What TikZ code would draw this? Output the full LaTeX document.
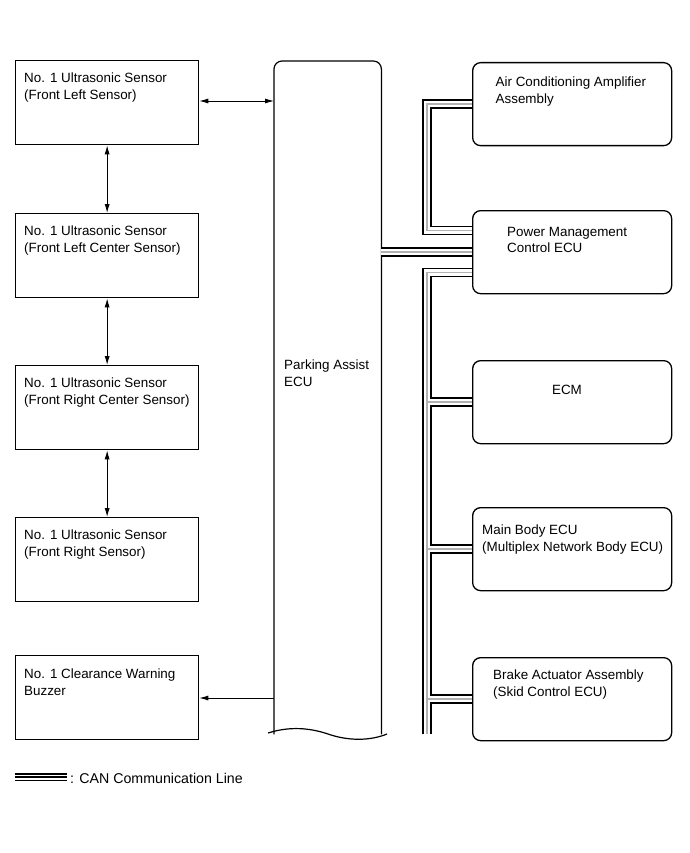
\documentclass[tikz,border=0pt]{standalone}
\usepackage{fontspec}
\setmainfont{Liberation Sans}
\usetikzlibrary{arrows.meta}
\begin{document}
\begin{tikzpicture}[x=1pt,y=-1pt,
  sbox/.style={draw, line width=1.3pt, minimum width=183pt, minimum height=84pt, inner sep=0pt, anchor=north west},
  rbox/.style={draw, rounded corners=8pt, line width=1.3pt, minimum width=199pt, minimum height=83pt, inner sep=0pt, anchor=north west},
  txt/.style={anchor=north west, inner sep=0pt, align=left, font=\fontsize{13.4}{16.5}\selectfont},
  arr/.style={line width=0.9pt, {Latex[length=9pt,width=5pt]}-{Latex[length=9pt,width=5pt]}},
  arrone/.style={line width=0.9pt, -{Latex[length=9pt,width=5pt]}},
  can/.style={line width=9.5pt, postaction={draw=white,line width=6.5pt}, postaction={draw=gray!60,line width=1.6pt}}
]
\useasboundingbox (0,0) rectangle (689,853);

% left boxes
\node[sbox] (s1) at (15,60) {};
\node[sbox] (s2) at (15,213) {};
\node[sbox] (s3) at (15,365) {};
\node[sbox] (s4) at (15,517) {};
\node[sbox] (buz) at (15,655) {};
\node[txt] (s1t) at (24,73) {No. 1 Ultrasonic Sensor\\(Front Left Sensor)};
\node[txt] (s2t) at (24,226) {No. 1 Ultrasonic Sensor\\(Front Left Center Sensor)};
\node[txt] (s3t) at (24,378) {No. 1 Ultrasonic Sensor\\(Front Right Center Sensor)};
\node[txt] (s4t) at (24,530) {No. 1 Ultrasonic Sensor\\(Front Right Sensor)};
\node[txt] (buzt) at (24,669) {No. 1 Clearance Warning\\Buzzer};

% ECU
\node[minimum width=107pt, minimum height=673pt, inner sep=0pt, anchor=north west] (ecu) at (274,61) {};
\draw[line width=1.2pt, rounded corners=8pt] (ecu.south west) -- (ecu.north west) -- (ecu.north east) -- (ecu.south east);
\draw[line width=1.2pt] (268,733) .. controls (290,726) and (310,728) .. (328,734) .. controls (348,741) and (370,741) .. (387,734);
\node[txt] (ecut) at (284,360) {Parking Assist\\ECU};

% right boxes
\node[rbox] (ac) at (472,62) {};
\node[rbox] (pm) at (472,210) {};
\node[rbox] (ecm) at (472,360) {};
\node[rbox] (mb) at (472,507) {};
\node[rbox] (br) at (472,657) {};
\node[txt] (act) at (495.5,76.7) {Air Conditioning Amplifier\\Assembly};
\node[txt] (pmt) at (507,227) {Power Management\\Control ECU};
\node[font=\fontsize{13.4}{16.5}\selectfont, inner sep=0pt] (ecmt) at (567,390) {ECM};
\node[txt] (mbt) at (482,525) {Main Body ECU\\(Multiplex Network Body ECU)};
\node[txt] (brt) at (493,670) {Brake Actuator Assembly\\(Skid Control ECU)};

% arrows
\draw[arr] (s1.east |- 0,101) -- (ecu.west |- 0,101);
\draw[arrone] (ecu.west |- 0,698) -- (buz.east |- 0,698);
\draw[arr] (s1.south) -- (s2.north);
\draw[arr] (s2.south) -- (s3.north);
\draw[arr] (s3.south) -- (s4.north);

% CAN network
\coordinate (busx) at (427,0);
\coordinate (busend) at (427,734);
\draw[can]
  (ac.west) -- (ac.west -| busx) -- ([yshift=21.5pt]pm.west -| busx) -- ([yshift=21.5pt]pm.west)
  (ecu.east |- pm.west) -- (pm.west)
  ([yshift=-20.5pt]pm.west) -- ([yshift=-20.5pt]pm.west -| busx) -- (busend)
  (ecm.west -| busx) -- (ecm.west)
  (mb.west -| busx) -- (mb.west)
  (br.west -| busx) -- (br.west);

% legend
\coordinate (lg1) at (15,777);
\coordinate (lg2) at (67,777);
\draw[line width=8pt, postaction={draw=white,line width=5pt}, postaction={draw=black,line width=1.2pt}] (lg1) -- (lg2);
\node[anchor=west, inner sep=0pt, font=\fontsize{14.2}{17}\selectfont] (lgt) at (70,778) {: CAN Communication Line};
\end{tikzpicture}
\end{document}
